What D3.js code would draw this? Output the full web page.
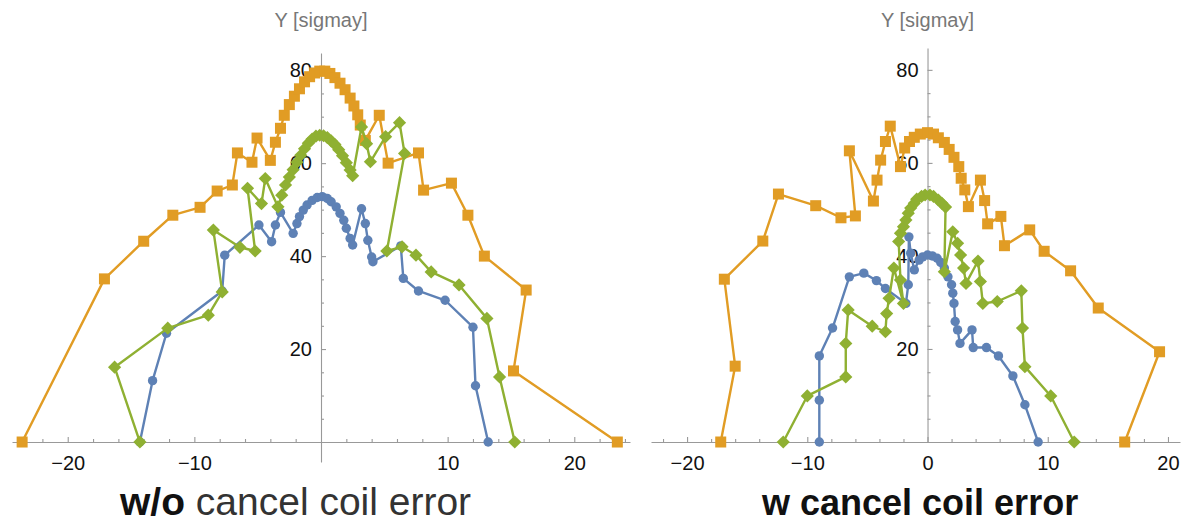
<!DOCTYPE html>
<html>
<head>
<meta charset="utf-8">
<script src="https://cdn.jsdelivr.net/npm/d3@7"></script>
<style>
  body { margin: 0; background: #fff; }
  svg { display: block; font-family: "Liberation Sans", Arial, Helvetica, sans-serif; }
</style>
</head>
<body>
<svg id="chart" width="1181" height="522"></svg>
<script>
// Tick values
const xTicksLeft = [-20, -10, 10, 20];
const xTicksRight = [-20, -10, 0, 10, 20];
const yTicks = [20, 40, 60, 80];
const xMinorTicks = [-24, -22, -18, -16, -14, -12, -8, -6, -4, -2, 2, 4, 6, 8, 12, 14, 16, 18, 22, 24];
const yMinorTicks = [5, 10, 15, 25, 30, 35, 45, 50, 55, 65, 70, 75];

// Aperture scans without the cancel coil error: [x, y] in sigma units
const leftBlue = [
  [-14.3, 0], [-13.3, 13.2], [-12.2, 23.4], [-7.8, 32.5], [-7.6, 40.2], [-4.9, 46.7],
  [-3.9, 43.1], [-3.6, 46.7], [-3.2, 49.4], [-2.2, 44.9], [-1.9, 47.0], [-1.7, 48.5],
  [-1.4, 49.9], [-1.1, 51.0], [-0.7, 52.0], [-0.3, 52.6], [0.1, 52.8], [0.5, 52.4],
  [0.8, 51.7], [1.2, 50.6], [1.5, 49.2], [1.8, 47.7], [2.0, 46.0], [2.3, 43.8],
  [2.5, 42.4], [3.2, 50.2], [3.5, 47.0], [3.7, 43.4], [4.0, 39.8], [4.1, 38.8],
  [6.3, 42.2], [6.5, 35.2], [7.7, 32.5], [9.8, 30.5], [12.0, 24.7], [12.2, 12.1], [13.2, 0]
];
const leftOrange = [
  [-23.6, 0], [-17.1, 35.1], [-14.0, 43.2], [-11.7, 48.8], [-9.55, 50.5], [-8.2, 54.0],
  [-7.0, 55.3], [-6.6, 62.2], [-5.45, 60.2], [-5.05, 65.4], [-4.0, 60.6], [-3.6, 64.5],
  [-3.2, 67.5], [-2.9, 70.3], [-2.5, 72.6], [-2.1, 74.4], [-1.7, 76.0], [-1.3, 77.5],
  [-0.9, 78.6], [-0.5, 79.4], [-0.1, 79.8], [0.3, 79.8], [0.7, 79.3], [1.1, 78.4],
  [1.5, 77.2], [1.9, 75.8], [2.3, 74.0], [2.6, 72.3], [2.9, 70.4], [3.1, 68.2],
  [3.5, 64.9], [4.6, 70.3], [5.3, 60.0], [7.7, 62.2], [8.1, 54.2], [10.3, 55.7],
  [11.6, 48.8], [12.9, 40.0], [16.2, 32.7], [15.2, 15.3], [23.4, 0]
];
const leftGreen = [
  [-14.3, 0], [-16.3, 16.1], [-12.1, 24.5], [-8.9, 27.3], [-7.8, 32.3], [-8.5, 45.6],
  [-6.4, 41.9], [-5.2, 41.1], [-5.8, 54.6], [-4.7, 51.3], [-4.4, 56.7], [-3.4, 50.6],
  [-3.1, 53.1], [-2.8, 55.3], [-2.5, 57.0], [-2.2, 58.6], [-1.9, 60.2], [-1.6, 61.7],
  [-1.3, 63.1], [-1.0, 64.3], [-0.7, 65.2], [-0.4, 65.8], [-0.1, 66.0], [0.2, 65.9],
  [0.5, 65.5], [0.8, 64.8], [1.1, 64.0], [1.4, 62.9], [1.7, 61.6], [2.0, 60.1],
  [2.3, 58.5], [2.5, 57.3], [3.2, 67.8], [3.6, 64.2], [3.9, 60.3], [5.1, 65.7],
  [6.2, 68.7], [6.6, 62.1], [5.2, 41.1], [6.4, 42.0], [7.5, 40.2], [8.7, 36.6],
  [10.9, 33.8], [13.1, 26.6], [14.1, 14.0], [15.3, 0]
];

// Aperture scans with the cancel coil error
const rightBlue = [
  [-9.0, 0], [-9.0, 9.0], [-9.0, 18.5], [-7.9, 24.5], [-6.5, 35.5], [-5.3, 36.3],
  [-4.25, 34.7], [-3.5, 33.0], [-1.8, 29.8], [-1.6, 33.8], [-1.55, 44.1], [-1.4, 40.6],
  [-1.1, 37.0], [-0.7, 39.1], [-0.4, 39.8], [0.0, 40.2], [0.4, 40.0], [0.8, 39.5],
  [1.1, 38.6], [1.4, 37.4], [1.7, 35.5], [2.0, 33.8], [2.1, 32.0], [2.2, 29.8],
  [2.3, 25.9], [2.5, 24.1], [2.7, 21.2], [3.7, 24.1], [3.8, 20.3], [4.9, 20.3],
  [5.9, 18.5], [7.1, 14.2], [8.1, 8.0], [9.2, 0]
];
const rightOrange = [
  [-17.2, 0], [-16.0, 16.3], [-16.9, 35.0], [-13.7, 43.2], [-12.4, 53.3], [-9.3, 50.8],
  [-7.2, 48.2], [-6.0, 48.6], [-6.5, 62.6], [-4.5, 51.8], [-4.2, 56.3], [-3.9, 60.6],
  [-3.5, 64.6], [-3.1, 67.9], [-2.25, 59.2], [-1.9, 63.2], [-1.5, 64.6], [-1.1, 65.5],
  [-0.6, 66.2], [0.0, 66.5], [0.5, 66.2], [0.9, 65.4], [1.4, 64.4], [1.8, 62.9],
  [2.2, 61.2], [2.6, 59.2], [2.8, 56.7], [3.1, 54.2], [3.4, 50.6], [4.4, 56.3],
  [4.75, 51.9], [5.0, 46.9], [6.1, 48.5], [6.4, 42.2], [8.5, 45.6], [9.7, 41.0],
  [11.9, 36.8], [14.2, 28.8], [19.3, 19.4], [16.4, 0]
];
const rightGreen = [
  [-12.0, 0], [-10.0, 9.9], [-6.8, 14.0], [-6.8, 21.2], [-6.6, 28.4], [-4.6, 24.9],
  [-3.5, 23.7], [-3.4, 27.6], [-3.2, 30.9], [-2.8, 37.4], [-2.0, 29.8], [-2.25, 34.8],
  [-2.4, 43.1], [-2.25, 44.9], [-2.0, 46.3], [-1.8, 47.7], [-1.6, 49.2], [-1.4, 50.3],
  [-1.1, 51.3], [-0.9, 52.2], [-0.5, 52.8], [-0.2, 53.1], [0.2, 53.1], [0.5, 52.8],
  [0.9, 52.0], [1.2, 51.3], [1.5, 50.5], [1.4, 36.6], [2.1, 45.2], [2.5, 42.7],
  [2.75, 40.2], [3.0, 37.4], [3.2, 34.1], [4.2, 38.9], [4.4, 34.5], [4.6, 29.8],
  [5.8, 30.2], [7.8, 32.5], [7.9, 24.5], [8.1, 16.2], [10.25, 9.9], [12.2, 0]
];

const colors = { blue: "#5E81B5", orange: "#E19C24", green: "#8FB032" };
const axisColor = "#999";
const lineWidth = 2.4;

const svg = d3.select("#chart");

const panels = [
  {
    x: d3.scaleLinear().domain([-24.4, 24.4]).range([12, 630]),
    y: d3.scaleLinear().domain([-4.3, 83.7]).range([462, 53]),
    xTicks: xTicksLeft,
    blue: leftBlue, orange: leftOrange, green: leftGreen
  },
  {
    x: d3.scaleLinear().domain([-23, 21]).range([651, 1180]),
    y: d3.scaleLinear().domain([0, 84.7]).range([442, 48]),
    xTicks: xTicksRight,
    blue: rightBlue, orange: rightOrange, green: rightGreen
  }
];

function styleAxis(g) {
  g.selectAll("path.domain").attr("stroke", axisColor).attr("stroke-width", 1.1);
  g.selectAll(".tick line").attr("stroke", axisColor).attr("stroke-width", 1.1);
  g.selectAll(".tick text")
    .attr("fill", "#111")
    .attr("font-size", 20)
    .attr("font-family", "Liberation Sans, Arial, sans-serif");
}

panels.forEach(p => {
  const g = svg.append("g");
  const y0 = p.y(0);
  const x0 = p.x(0);

  // minor ticks
  g.append("g")
    .attr("transform", `translate(0,${y0})`)
    .call(d3.axisBottom(p.x).tickValues(xMinorTicks.filter(v => v >= p.x.domain()[0] && v <= p.x.domain()[1]))
      .tickSizeInner(-3).tickSizeOuter(0).tickFormat(""))
    .call(a => a.select("path.domain").remove())
    .call(styleAxis);
  g.append("g")
    .attr("transform", `translate(${x0},0)`)
    .call(d3.axisLeft(p.y).tickValues(yMinorTicks).tickSizeInner(-3).tickSizeOuter(0).tickFormat(""))
    .call(a => a.select("path.domain").remove())
    .call(styleAxis);

  // major axes
  g.append("g")
    .attr("transform", `translate(0,${y0})`)
    .call(d3.axisBottom(p.x).tickValues(p.xTicks).tickSizeInner(-5).tickSizeOuter(0).tickPadding(14))
    .call(styleAxis);
  g.append("g")
    .attr("transform", `translate(${x0},0)`)
    .call(d3.axisLeft(p.y).tickValues(yTicks).tickSizeInner(-5).tickSizeOuter(0).tickPadding(9))
    .call(styleAxis);

  // axis label
  g.append("text")
    .attr("x", x0)
    .attr("y", 27)
    .attr("text-anchor", "middle")
    .attr("font-size", 20)
    .attr("fill", "#777")
    .text("Y [sigmay]");

  const line = d3.line().x(d => p.x(d[0])).y(d => p.y(d[1]));

  // blue: circles
  g.append("path").datum(p.blue).attr("d", line)
    .attr("fill", "none").attr("stroke", colors.blue).attr("stroke-width", lineWidth).attr("stroke-linejoin", "round");
  g.append("g").selectAll("circle").data(p.blue).join("circle")
    .attr("cx", d => p.x(d[0])).attr("cy", d => p.y(d[1])).attr("r", 4.7)
    .attr("fill", colors.blue);

  // orange: squares
  g.append("path").datum(p.orange).attr("d", line)
    .attr("fill", "none").attr("stroke", colors.orange).attr("stroke-width", lineWidth).attr("stroke-linejoin", "round");
  g.append("g").selectAll("rect").data(p.orange).join("rect")
    .attr("x", d => p.x(d[0]) - 5.5).attr("y", d => p.y(d[1]) - 5.5)
    .attr("width", 11).attr("height", 11)
    .attr("fill", colors.orange);

  // green: diamonds
  g.append("path").datum(p.green).attr("d", line)
    .attr("fill", "none").attr("stroke", colors.green).attr("stroke-width", lineWidth).attr("stroke-linejoin", "round");
  g.append("g").selectAll("path").data(p.green).join("path")
    .attr("d", d => {
      const cx = p.x(d[0]), cy = p.y(d[1]), r = 6.6;
      return `M${cx},${cy - r}L${cx + r},${cy}L${cx},${cy + r}L${cx - r},${cy}Z`;
    })
    .attr("fill", colors.green);
});

// panel titles
const t1 = svg.append("text").attr("x", 120).attr("y", 515).attr("font-size", 39).attr("fill", "#333");
t1.append("tspan").attr("font-weight", "bold").attr("fill", "#111").text("w/o");
t1.append("tspan").text(" cancel coil error");

svg.append("text").attr("x", 762).attr("y", 515).attr("font-size", 36)
  .attr("font-weight", "bold").attr("fill", "#111")
  .text("w cancel coil error");
</script>
</body>
</html>
